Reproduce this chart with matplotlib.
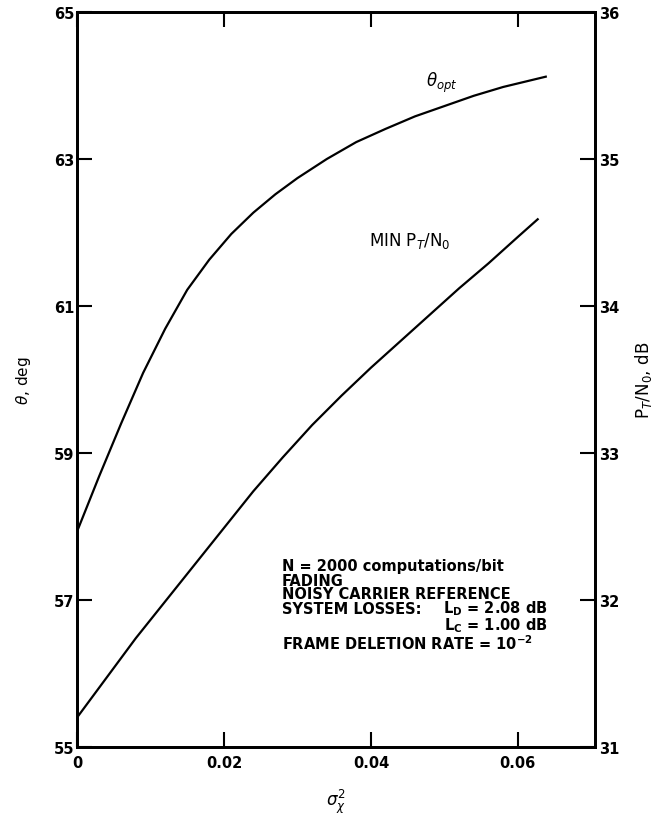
import matplotlib
matplotlib.use("Agg")
import matplotlib.pyplot as plt

# Data
sigma_theta = [0.0, 0.003, 0.006, 0.009, 0.012, 0.015, 0.018, 0.021, 0.024, 0.027,
               0.030, 0.034, 0.038, 0.042, 0.046, 0.050, 0.054, 0.058, 0.0638]
theta_opt = [57.93, 58.68, 59.40, 60.09, 60.69, 61.22, 61.63, 61.98, 62.27, 62.52,
             62.74, 63.00, 63.23, 63.41, 63.58, 63.72, 63.86, 63.98, 64.12]

sigma_p = [0.0, 0.004, 0.008, 0.012, 0.016, 0.020, 0.024, 0.028, 0.032, 0.036,
           0.040, 0.044, 0.048, 0.052, 0.056, 0.060, 0.0627]
min_pt_n0 = [31.20, 31.47, 31.74, 31.99, 32.24, 32.49, 32.74, 32.97, 33.19, 33.39,
             33.58, 33.76, 33.94, 34.12, 34.29, 34.47, 34.59]

x_ticks = [0.0, 0.02, 0.04, 0.06]
x_ticklabels = ["0", "0.02", "0.04", "0.06"]
left_ticks = [55, 57, 59, 61, 63, 65]
right_ticks = [31, 32, 33, 34, 35, 36]

fig = plt.figure(figsize=(6.64, 8.20), dpi=100)
ax = fig.add_axes([77/664, 1-748/820, (595-77)/664, (748-13)/820])
ax2 = ax.twinx()

ax.plot(sigma_theta, theta_opt, color="black", lw=1.6)
ax2.plot(sigma_p, min_pt_n0, color="black", lw=1.6)

ax.set_xlim(0, 0.0705)
ax.set_ylim(55, 65)
ax2.set_ylim(31, 36)

ax.set_xticks(x_ticks)
ax.set_xticklabels(x_ticklabels)
ax.set_yticks(left_ticks)
ax2.set_yticks(right_ticks)

for a in (ax, ax2):
    for s in a.spines.values():
        s.set_linewidth(2.0)

ax.tick_params(axis="x", direction="in", length=11, width=1.5, labelsize=10.5, pad=6, top=True, labeltop=False)
ax.tick_params(axis="y", direction="in", length=11, width=1.5, labelsize=10.5, pad=2)
ax2.tick_params(axis="y", direction="in", length=11, width=1.5, labelsize=10.5, pad=3)
for lab in ax.get_xticklabels() + ax.get_yticklabels() + ax2.get_yticklabels():
    lab.set_fontweight("bold")

ax.set_ylabel(r"$\theta$, deg", fontsize=11, labelpad=15)
ax2.set_ylabel(r"P$_T$/N$_0$, dB", fontsize=12, labelpad=10)
ax.set_xlabel(r"$\sigma_\chi^2$", fontsize=12, labelpad=12)

ax.text(0.0497, 64.05, r"$\theta_{opt}$", fontsize=12, ha="center", va="center")
ax2.text(0.0453, 34.45, r"MIN P$_T$/N$_0$", fontsize=12, ha="center", va="center")

fs = 10.5
x0 = 0.0279
xr = 0.0641
ax.text(x0, 57.463, "N = 2000 computations/bit", fontsize=fs, fontweight="bold", ha="left", va="center")
ax.text(x0, 57.272, "FADING", fontsize=fs, fontweight="bold", ha="left", va="center")
ax.text(x0, 57.082, "NOISY CARRIER REFERENCE", fontsize=fs, fontweight="bold", ha="left", va="center")
ax.text(x0, 56.891, "SYSTEM LOSSES:", fontsize=fs, fontweight="bold", ha="left", va="center")
ax.text(xr, 56.891, r"L$_\mathbf{D}$ = 2.08 dB", fontsize=fs, fontweight="bold", ha="right", va="center")
ax.text(xr, 56.66, r"L$_\mathbf{C}$ = 1.00 dB", fontsize=fs, fontweight="bold", ha="right", va="center")
ax.text(x0, 56.415, r"FRAME DELETION RATE = 10$^\mathbf{-2}$", fontsize=fs, fontweight="bold", ha="left", va="center")

fig.savefig("out.png", dpi=100)
